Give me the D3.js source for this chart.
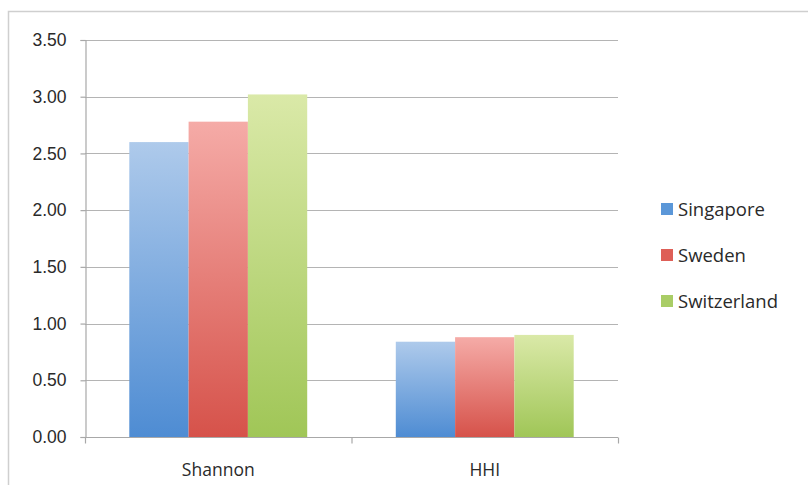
<!DOCTYPE html>
<html>
<head>
<meta charset="utf-8">
<script src="https://cdn.jsdelivr.net/npm/d3@7/dist/d3.min.js"></script>
<style>
  html, body { margin: 0; padding: 0; background: #fff; }
  svg { display: block; font-family: "Open Sans", "Noto Sans", sans-serif; }
</style>
</head>
<body>
<svg id="chart" width="808" height="485"></svg>
<script>
// Diversity indices by country
const categories = ["Shannon", "HHI"];
const countries = ["Singapore", "Sweden", "Switzerland"];
const singapore = [2.60, 0.84];
const sweden = [2.78, 0.88];
const switzerland = [3.02, 0.90];
const yTicks = [0, 0.5, 1, 1.5, 2, 2.5, 3, 3.5];

const seriesValues = [singapore, sweden, switzerland];
const palette = [
  { top: "#aecaeb", bottom: "#4e8cd3" },
  { top: "#f5aba7", bottom: "#d6524a" },
  { top: "#dae9a8", bottom: "#a0c657" }
];
const legendSwatch = ["#5b97d8", "#de5f57", "#a9cd66"];

const svg = d3.select("#chart");
const plotLeft = 85, plotRight = 618;
const plotTop = 40, plotBottom = 437;

// Outer chart frame
svg.append("rect")
  .attr("x", 8.5).attr("y", 11.5)
  .attr("width", 820).attr("height", 500)
  .attr("fill", "#fff")
  .attr("stroke", "#cfcfcf").attr("stroke-width", 1.5);

const x = d3.scaleBand().domain(categories).range([plotLeft, plotRight]).paddingInner(0).paddingOuter(0);
const x1 = d3.scaleBand().domain(countries).range([0, x.bandwidth()]).paddingInner(0).paddingOuter(0.747);
const y = d3.scaleLinear().domain([0, 3.5]).range([plotBottom, plotTop]);

// Gradients for each series
const defs = svg.append("defs");
palette.forEach((p, i) => {
  const g = defs.append("linearGradient")
    .attr("id", "grad" + i)
    .attr("x1", 0).attr("y1", 0).attr("x2", 0).attr("y2", 1);
  g.append("stop").attr("offset", "0%").attr("stop-color", p.top);
  g.append("stop").attr("offset", "100%").attr("stop-color", p.bottom);
});

// Horizontal gridlines
svg.append("g")
  .selectAll("line")
  .data(yTicks.filter(d => d > 0))
  .join("line")
  .attr("x1", plotLeft).attr("x2", plotRight)
  .attr("y1", d => Math.round(y(d)) + 0.5).attr("y2", d => Math.round(y(d)) + 0.5)
  .attr("stroke", "#b4b4b4").attr("stroke-width", 1.2);

// Bars
const groups = svg.append("g")
  .selectAll("g")
  .data(categories)
  .join("g")
  .attr("transform", d => `translate(${x(d)},0)`);

groups.selectAll("rect")
  .data((c, ci) => countries.map((name, si) => ({ name, si, value: seriesValues[si][ci] })))
  .join("rect")
  .attr("x", d => x1(d.name))
  .attr("width", x1.bandwidth())
  .attr("y", d => y(d.value))
  .attr("height", d => y(0) - y(d.value))
  .attr("fill", d => `url(#grad${d.si})`);

// Y axis
const yAxis = d3.axisLeft(y).tickValues(yTicks).tickFormat(d3.format(".2f")).tickSize(5).tickPadding(14);
const yg = svg.append("g").attr("transform", `translate(${plotLeft + 0.5},0)`).call(yAxis);
yg.select(".domain").attr("stroke", "#a8a8a8").attr("stroke-width", 1.2);
yg.selectAll(".tick line").attr("stroke", "#a8a8a8").attr("stroke-width", 1.2);
yg.selectAll(".tick text").attr("fill", "#2a2a2a").attr("font-size", 17.5);

// X axis with category boundary ticks
const xg = svg.append("g").attr("transform", `translate(0,${plotBottom + 0.5})`);
xg.append("line")
  .attr("x1", plotLeft).attr("x2", plotRight)
  .attr("stroke", "#a8a8a8").attr("stroke-width", 1.2);
const boundaries = [plotLeft, ...categories.map(c => x(c) + x.bandwidth())];
xg.selectAll("line.tk")
  .data(boundaries)
  .join("line").attr("class", "tk")
  .attr("x1", d => d + 0.5).attr("x2", d => d + 0.5)
  .attr("y1", 0).attr("y2", 6)
  .attr("stroke", "#a8a8a8").attr("stroke-width", 1.2);
xg.selectAll("text")
  .data(categories)
  .join("text")
  .attr("x", d => x(d) + x.bandwidth() / 2)
  .attr("y", 38)
  .attr("text-anchor", "middle")
  .attr("fill", "#2a2a2a")
  .attr("font-size", 17.5)
  .text(d => d);

// Legend
const legend = svg.append("g").attr("transform", "translate(661,203)");
const li = legend.selectAll("g")
  .data(countries)
  .join("g")
  .attr("transform", (d, i) => `translate(0,${i * 46})`);
li.append("rect").attr("width", 12).attr("height", 12).attr("fill", (d, i) => legendSwatch[i]);
li.append("text")
  .attr("x", 17).attr("y", 13)
  .attr("fill", "#2a2a2a")
  .attr("font-size", 18.5)
  .text(d => d);
</script>
</body>
</html>
